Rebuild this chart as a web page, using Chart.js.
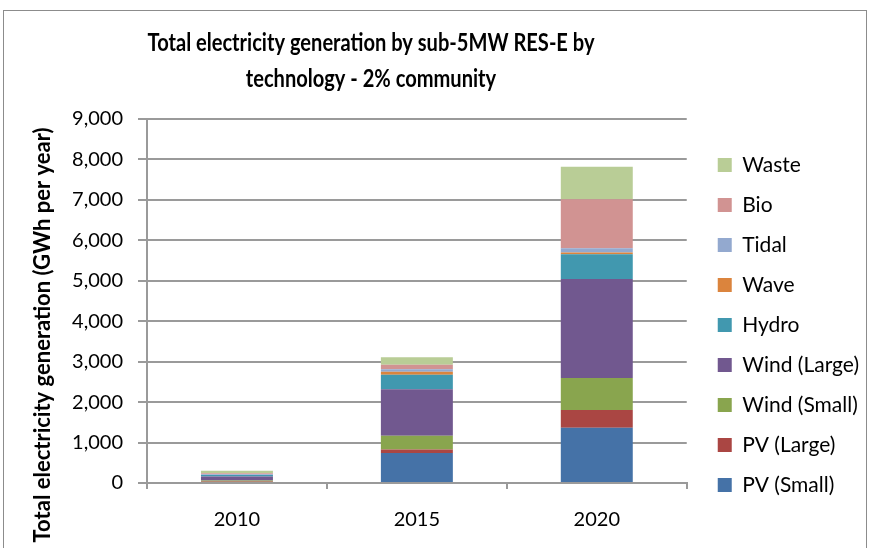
<!DOCTYPE html>
<html>
<head>
<meta charset="utf-8">
<script src="https://cdn.jsdelivr.net/npm/chart.js@4/dist/chart.umd.min.js"></script>
<style>
  body { margin: 0; background: #fff; }
  #wrap { position: relative; width: 869px; height: 548px; }
  #frame {
    position: absolute; left: 3px; top: 10px; width: 862px; height: 560px;
    border: 1px solid #8c8c8c; pointer-events: none;
  }
</style>
</head>
<body>
<div id="wrap">
  <canvas id="chart" width="869" height="548"></canvas>
  <div id="frame"></div>
</div>
<script>
const years = ["2010", "2015", "2020"];

const pvSmall = [25, 740, 1368];
const pvLarge = [10, 91, 436];
const windSmall = [25, 337, 790];
const windLarge = [100, 1152, 2453];
const hydro = [35, 354, 609];
const wave = [5, 74, 41];
const tidal = [15, 66, 107];
const bio = [25, 107, 1210];
const waste = [60, 190, 807];

const yTicks = [0, 1000, 2000, 3000, 4000, 5000, 6000, 7000, 8000, 9000];

const FONT = "Lato, 'Open Sans', sans-serif";
const TITLE = ["Total electricity generation by sub-5MW RES-E by", "technology - 2% community"];
const Y_TITLE = "Total electricity generation (GWh per year)";
const GRID = "#9a9a9a";

const series = [
  { label: "PV (Small)", data: pvSmall, color: "#4572A7" },
  { label: "PV (Large)", data: pvLarge, color: "#AA4643" },
  { label: "Wind (Small)", data: windSmall, color: "#89A54E" },
  { label: "Wind (Large)", data: windLarge, color: "#71588F" },
  { label: "Hydro", data: hydro, color: "#4198AF" },
  { label: "Wave", data: wave, color: "#DB843D" },
  { label: "Tidal", data: tidal, color: "#93A9CF" },
  { label: "Bio", data: bio, color: "#D19392" },
  { label: "Waste", data: waste, color: "#B9CD96" },
];

// chart title and y axis title drawn by hand, Excel puts them off-centre
// the title is squeezed a bit so Lato looks like the narrow Calibri
const textPlugin = {
  id: "excelText",
  afterDraw(chart) {
    const c = chart.ctx;
    c.save();
    c.fillStyle = "#000";
    c.textAlign = "center";
    c.textBaseline = "alphabetic";
    c.font = "bold 25px " + FONT;
    const squeeze = 447 / c.measureText(TITLE[0]).width;
    c.save();
    c.translate(371, 0);
    c.scale(squeeze, 1);
    c.fillText(TITLE[0], 0, 51);
    c.fillText(TITLE[1], 0, 87);
    c.restore();
    c.textBaseline = "middle";
    c.translate(43, 335);
    c.rotate(-Math.PI / 2);
    c.font = "bold 22px " + FONT;
    c.fillText(Y_TITLE, 0, 0);
    c.restore();
  },
};

const ctx = document.getElementById("chart");
new Chart(ctx, {
  type: "bar",
  data: {
    labels: years,
    datasets: series.map((s) => ({
      label: s.label,
      data: s.data,
      backgroundColor: s.color,
      borderWidth: 0,
      categoryPercentage: 0.4,
      barPercentage: 1,
    })),
  },
  plugins: [textPlugin],
  options: {
    responsive: false,
    animation: false,
    layout: { padding: { left: 0, right: 0, top: 119, bottom: 0 } },
    scales: {
      x: {
        stacked: true,
        grid: { drawOnChartArea: false, drawTicks: true, tickLength: 6, color: GRID, lineWidth: 2 },
        border: { color: GRID, width: 2 },
        ticks: { color: "#000", font: { family: FONT, size: 20 }, padding: 19 },
        afterFit: (s) => {
          s.height = 65;
        },
      },
      y: {
        stacked: true,
        min: 0,
        max: 9000,
        afterBuildTicks: (axis) => {
          axis.ticks = yTicks.map((v) => ({ value: v }));
        },
        grid: { color: GRID, lineWidth: 2, tickLength: 9 },
        border: { color: GRID, width: 2 },
        ticks: {
          color: "#000",
          font: { family: FONT, size: 20 },
          padding: 15,
          callback: (v) => v.toLocaleString("en-US"),
        },
        afterFit: (s) => {
          s.width = 147;
        },
      },
      // empty axis, only keeps a gap between plot and legend
      gap: {
        type: "linear",
        position: "right",
        grid: { display: false },
        ticks: { display: false },
        border: { display: false },
        afterFit: (s) => {
          s.width = 12;
        },
      },
    },
    plugins: {
      title: { display: false },
      legend: {
        position: "right",
        reverse: true,
        align: "start",
        maxWidth: 220,
        title: { display: true, text: "", padding: { top: 2, bottom: 0 } },
        labels: {
          color: "#000",
          font: { family: FONT, size: 21 },
          boxWidth: 14,
          boxHeight: 14,
          padding: 19,
        },
      },
      tooltip: { enabled: false },
    },
  },
});
</script>
</body>
</html>
